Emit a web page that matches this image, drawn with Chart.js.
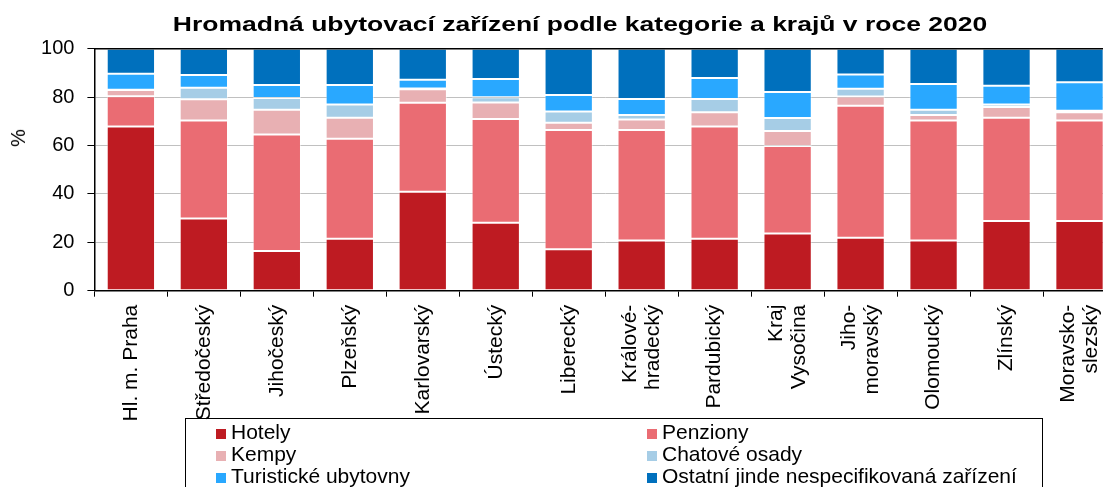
<!DOCTYPE html>
<html>
<head>
<meta charset="utf-8">
<script src="https://cdn.jsdelivr.net/npm/chart.js@4.4.0/dist/chart.umd.min.js"></script>
<style>
    html, body { margin: 0; padding: 0; background: #fff; width: 1103px; height: 487px; overflow: hidden; }
    body { position: relative; font-family: "Liberation Sans", Arial, sans-serif; color: #000; }
    #wrap { position: absolute; left: 0; top: 0; width: 1160px; height: 487px; }
    #title { position: absolute; left: 580px; top: 12.5px; white-space: nowrap; font-weight: bold; font-size: 20px; line-height: 22px;
             transform: translateX(-50%) scaleX(1.325); }
    #ylabel { position: absolute; left: 18px; top: 138px; font-size: 20px; line-height: 20px; transform: translate(-50%, -50%) rotate(-90deg); }
    #legend { position: absolute; left: 185px; top: 418px; width: 858px; height: 90px; border: 1.5px solid #000;
              display: grid; grid-template-columns: 431px 1fr; grid-auto-rows: 22px; padding: 2px 0 0 30px; box-sizing: border-box; }
    .item { font-size: 21px; line-height: 22px; white-space: nowrap; }
    .swatch { display: inline-block; width: 10px; height: 10px; margin-right: 5px; }
</style>
</head>
<body>
<div id="wrap"><canvas id="chart"></canvas></div>
<div id="title">Hromadná ubytovací zařízení podle kategorie a krajů v roce 2020</div>
<div id="ylabel">%</div>
<div id="legend"></div>
<script>
document.addEventListener("DOMContentLoaded", function() {

    const regions = [
        'Hl. m. Praha', 'Středočeský', 'Jihočeský', 'Plzeňský', 'Karlovarský', 'Ústecký', 'Liberecký',
        ['Králové-', 'hradecký'], 'Pardubický', ['Kraj', 'Vysočina'], ['Jiho-', 'moravský'],
        'Olomoucký', 'Zlínský', ['Moravsko-', 'slezský']
    ];

    const seriesNames = ['Hotely', 'Penziony', 'Kempy', 'Chatové osady', 'Turistické ubytovny', 'Ostatní jinde nespecifikovaná zařízení'];
    const seriesColors = ['#be1b22', '#ea6c73', '#e8b0b3', '#a6cde6', '#29a8ff', '#0070bd'];

    // shares in %
    const hotely     = [67.8, 29.8, 16.4, 21.5, 40.9, 28.1, 17.1, 20.7, 21.5, 23.6, 21.9, 20.7, 28.8, 28.8];
    const penziony   = [12.6, 40.5, 48.1, 41.3, 36.8, 42.8, 49.3, 45.7, 46.3, 36.2, 54.5, 49.6, 42.7, 41.5];
    const kempy      = [ 2.5,  8.8, 10.3,  8.7,  5.5,  6.9,  3.0,  4.3,  5.9,  6.2,  3.8,  2.3,  4.4,  3.4];
    const chatoveOsady = [0.1, 4.8, 4.8,  5.4,  0.4,  2.1,  4.7,  1.9,  5.5,  5.4,  3.3,  2.2,  1.0,  0.7];
    const turisticke = [ 6.6,  5.2,  5.4,  8.1,  3.6,  7.6,  6.8,  6.6,  8.7, 10.7,  5.8, 10.6,  7.8, 11.7];
    const ostatni    = [10.4, 10.9, 15.0, 15.0, 12.8, 12.5, 19.1, 20.8, 12.1, 17.9, 10.7, 14.6, 15.3, 13.9];

    const yTicks = [0, 20, 40, 60, 80, 100];

    const seriesValues = [hotely, penziony, kempy, chatoveOsady, turisticke, ostatni];
    const font = "'Liberation Sans', Arial, sans-serif";

    const datasets = seriesNames.map((name, i) => ({
        label: name,
        data: seriesValues[i],
        backgroundColor: seriesColors[i],
        borderColor: 'rgba(255, 255, 255, 0.45)',
        borderWidth: 1,
        borderSkipped: false,
        categoryPercentage: 1,
        barPercentage: 0.662
    }));

    // two-line rotated labels: center both lines on the tick, not just the first one
    const centerMultiline = {
        id: 'centerMultiline',
        afterUpdate(chart) {
            const items = chart.scales.x.getLabelItems();
            items.forEach(it => {
                if (Array.isArray(it.label) && it.label.length > 1) {
                    it.options.translation[0] -= (it.label.length - 1) * it.font.lineHeight / 2;
                }
            });
        }
    };

    new Chart(document.getElementById("chart"), {
        type: 'bar',
        data: { labels: regions, datasets },
        plugins: [centerMultiline],
        options: {
            responsive: true,
            maintainAspectRatio: false,
            animation: false,
            layout: { padding: { top: 48.7, right: 44, left: 0, bottom: 0 } },
            plugins: {
                legend: { display: false },
                tooltip: { enabled: false }
            },
            scales: {
                x: {
                    stacked: true,
                    grid: { offset: true, drawOnChartArea: false, tickColor: '#000', tickLength: 6 },
                    border: { color: '#000', width: 1.5, z: 1 },
                    ticks: {
                        color: '#000',
                        font: { family: font, size: 21, lineHeight: 1.08 },
                        minRotation: 90,
                        maxRotation: 90,
                        autoSkip: false,
                        padding: 8
                    },
                    afterFit: function(scale) { scale.height = 196.3; }
                },
                top: {
                    type: 'category',
                    position: 'top',
                    grid: { display: false },
                    ticks: { display: false },
                    border: { color: '#000', width: 1.5, z: 1 },
                    afterFit: function(scale) { scale.height = 0; }
                },
                y: {
                    stacked: true,
                    min: 0,
                    max: 100,
                    afterBuildTicks: function(scale) { scale.ticks = yTicks.map(v => ({ value: v })); },
                    grid: { color: '#c0c0c0', tickColor: '#000', tickLength: 7 },
                    border: { color: '#000', width: 1.5 },
                    ticks: { color: '#000', font: { family: font, size: 20 }, padding: 13 },
                    afterFit: function(scale) { scale.width = 94.4; }
                }
            }
        }
    });

    const legend = document.getElementById("legend");
    seriesNames.forEach((name, i) => {
        const item = document.createElement("div");
        item.className = "item";
        item.innerHTML = `<span class="swatch" style="background:${seriesColors[i]}"></span>${name}`;
        legend.appendChild(item);
    });
});
</script>
</body>
</html>
